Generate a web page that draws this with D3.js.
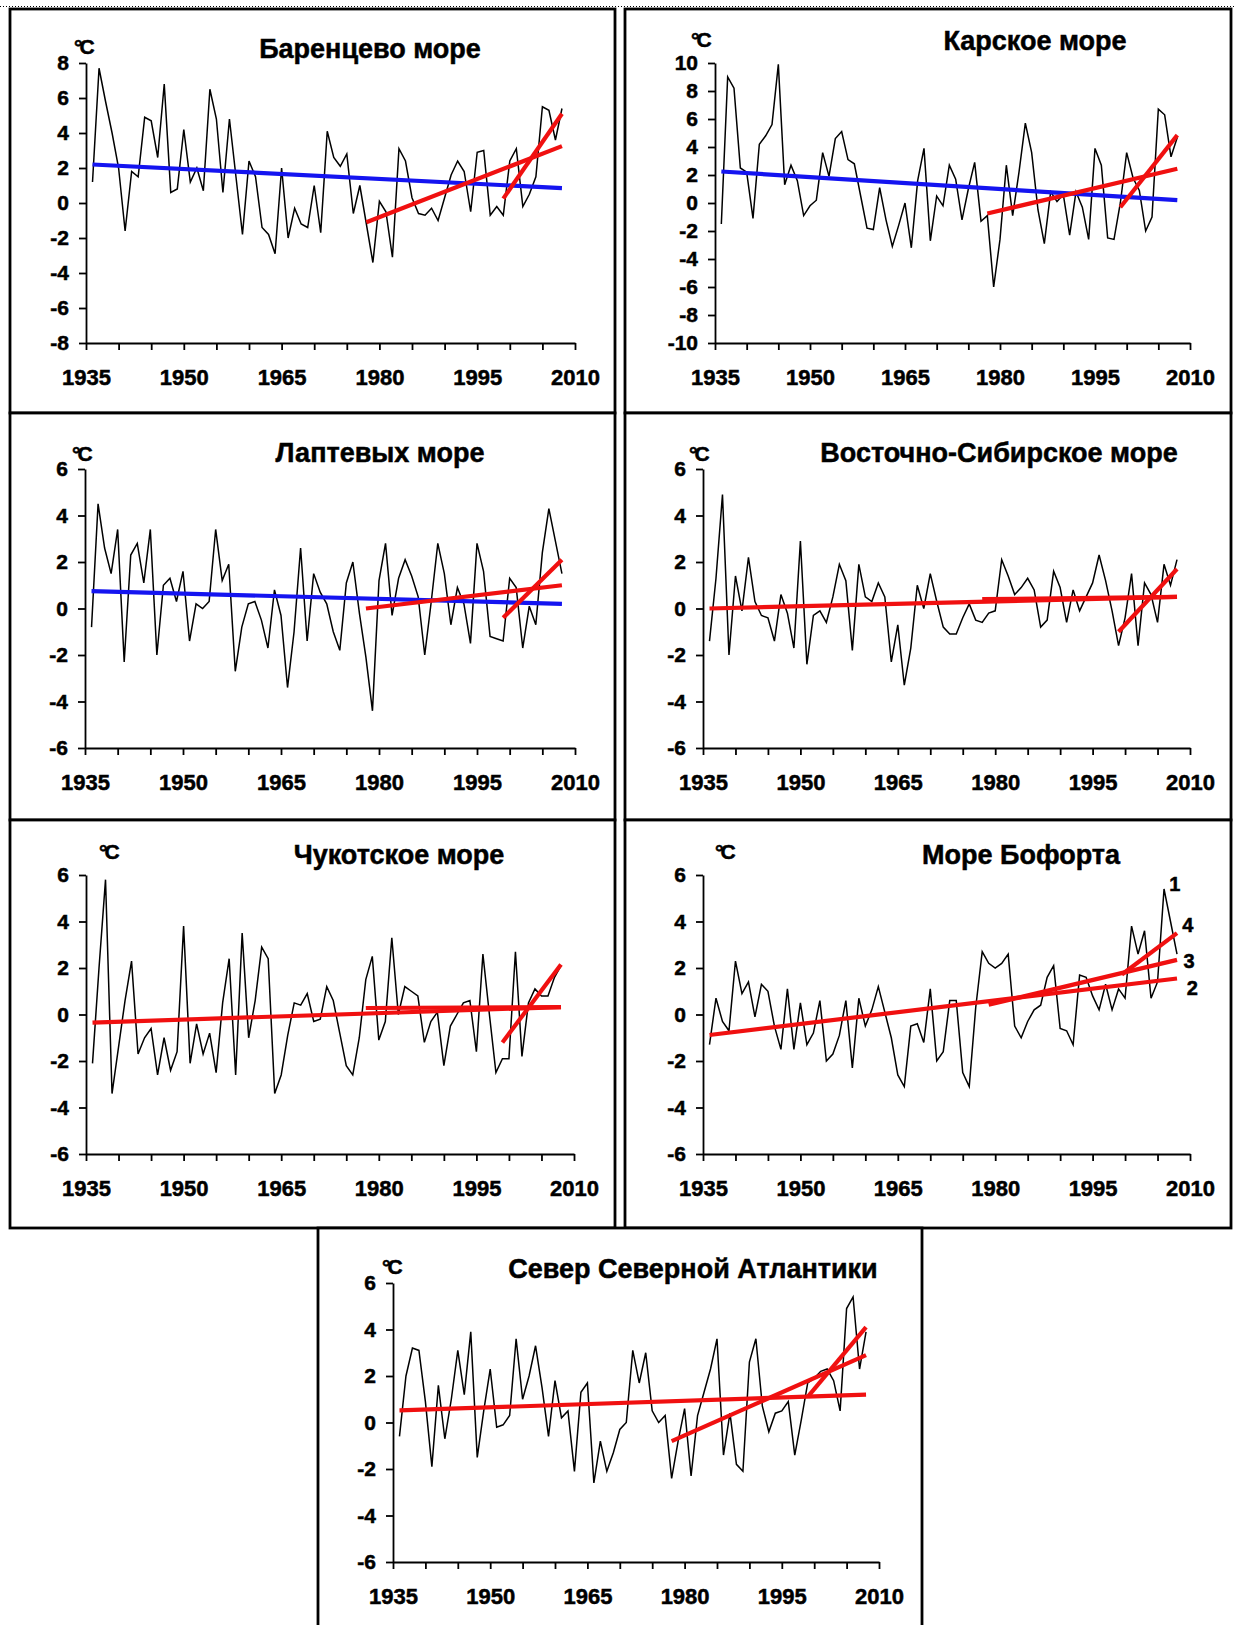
<!DOCTYPE html>
<html>
<head>
<meta charset="utf-8">
<script src="https://cdn.jsdelivr.net/npm/d3@7/dist/d3.min.js"></script>
<style>
body { margin: 0; background: #fff; }
svg text { font-family: "Liberation Sans", Arial, sans-serif; font-weight: bold; fill: #000; }
svg text.heavy { stroke: #000; stroke-width: 0.5px; }
</style>
</head>
<body>
<svg id="chart" width="1234" height="1625"></svg>
<script>
// years of the series
const years = d3.range(1936, 2009);

// x axis: ticks every 5 years, labels every 15
const xTicks = d3.range(1935, 2011, 5);
const xLabels = [1935, 1950, 1965, 1980, 1995, 2010];

const yTicks8 = [-8, -6, -4, -2, 0, 2, 4, 6, 8];
const yTicks10 = [-10, -8, -6, -4, -2, 0, 2, 4, 6, 8, 10];
const yTicks6 = [-6, -4, -2, 0, 2, 4, 6];

// temperature anomalies, 1936..2008
const barents = [
  1.2, 7.7, 5.8, 4.0, 2.0, -1.6, 1.8, 1.5, 4.9, 4.7,
  2.6, 6.8, 0.6, 0.8, 4.2, 1.2, 2.0, 0.7, 6.5, 4.8,
  0.6, 4.8, 1.5, -1.8, 2.4, 1.5, -1.4, -1.8, -2.9, 2.0,
  -2.0, -0.3, -1.2, -1.4, 1.0, -1.7, 4.1, 2.6, 2.1, 2.8,
  -0.6, 1.0, -1.2, -3.4, 0.1, -0.5, -3.1, 3.1, 2.4, 0.3,
  -0.6, -0.7, -0.3, -1.0, 0.3, 1.6, 2.4, 1.8, -0.5, 2.9,
  3.0, -0.7, -0.2, -0.7, 2.4, 3.1, -0.2, 0.5, 1.5, 5.5,
  5.3, 3.6, 5.4
];
const kara = [
  -1.5, 9.0, 8.2, 2.5, 2.2, -1.1, 4.2, 4.8, 5.6, 9.9,
  1.3, 2.7, 1.6, -0.9, -0.2, 0.2, 3.6, 1.9, 4.6, 5.1,
  3.1, 2.8, 0.5, -1.8, -1.9, 1.1, -1.2, -3.1, -1.6, 0.0,
  -3.2, 1.6, 3.9, -2.7, 0.5, -0.2, 2.7, 1.7, -1.2, 1.0,
  2.9, -1.3, -0.9, -6.0, -2.6, 2.7, -0.9, 2.2, 5.7, 3.6,
  -0.5, -2.9, 0.8, 0.1, 0.6, -2.3, 0.8, -0.3, -2.6, 3.9,
  2.7, -2.5, -2.6, 0.0, 3.6, 1.8, 0.9, -2.0, -1.0, 6.7,
  6.3, 3.3, 4.7
];
const laptev = [
  -0.8, 4.5, 2.6, 1.5, 3.4, -2.3, 2.3, 2.8, 1.1, 3.4,
  -2.0, 1.0, 1.3, 0.3, 1.6, -1.4, 0.2, 0.0, 0.3, 3.4,
  1.2, 1.9, -2.7, -0.8, 0.2, 0.3, -0.5, -1.7, 0.8, -0.3,
  -3.4, -1.0, 2.6, -1.4, 1.5, 0.7, 0.2, -1.0, -1.8, 1.1,
  2.0, -0.2, -2.1, -4.4, 1.2, 2.8, -0.3, 1.3, 2.1, 1.4,
  0.5, -2.0, 0.3, 2.8, 1.5, -0.7, 0.9, 0.2, -1.5, 2.8,
  1.6, -1.2, -1.3, -1.4, 1.3, 0.9, -1.7, 0.1, -0.7, 2.4,
  4.3, 2.9, 1.5
];
const eastSiberian = [
  -1.4, 1.3, 4.9, -2.0, 1.4, -0.1, 2.2, 0.3, -0.3, -0.4,
  -1.4, 0.6, -0.2, -1.7, 2.9, -2.4, -0.3, -0.1, -0.6, 0.5,
  1.9, 1.2, -1.8, 1.9, 0.5, 0.3, 1.1, 0.5, -2.3, -0.7,
  -3.3, -1.7, 1.0, 0.0, 1.5, 0.3, -0.8, -1.1, -1.1, -0.4,
  0.2, -0.5, -0.6, -0.2, -0.1, 2.1, 1.4, 0.6, 0.9, 1.3,
  0.8, -0.8, -0.5, 1.6, 0.9, -0.6, 0.8, -0.1, 0.5, 1.1,
  2.3, 1.2, -0.1, -1.6, -0.4, 1.5, -1.6, 1.1, 0.6, -0.6,
  1.9, 1.0, 2.1
];
const chukchi = [
  -2.1, 2.0, 5.8, -3.4, -1.4, 0.6, 2.3, -1.7, -1.0, -0.6,
  -2.6, -1.0, -2.4, -1.6, 3.8, -2.1, -0.4, -1.7, -0.8, -2.5,
  0.5, 2.4, -2.6, 3.5, -1.0, 0.6, 2.9, 2.4, -3.4, -2.6,
  -0.9, 0.5, 0.4, 0.9, -0.3, -0.2, 1.2, 0.6, -0.8, -2.2,
  -2.6, -1.0, 1.5, 2.5, -1.1, -0.3, 3.3, 0.0, 1.2, 1.0,
  0.8, -1.2, -0.3, 0.1, -2.2, -0.5, 0.0, 0.5, 0.6, -1.6,
  2.6, 0.0, -2.5, -1.9, -1.9, 2.7, -1.8, 0.5, 1.1, 0.8,
  0.8, 1.6, 2.1
];
const beaufort = [
  -1.3, 0.7, -0.3, -0.7, 2.3, 0.9, 1.4, -0.1, 1.3, 1.0,
  -0.5, -1.5, 1.1, -1.5, 0.5, -1.3, -0.8, 0.6, -2.0, -1.7,
  -0.9, 0.6, -2.3, 0.7, -0.5, 0.2, 1.2, 0.1, -1.0, -2.6,
  -3.1, -0.5, -0.4, -1.2, 1.1, -2.0, -1.6, 0.6, 0.6, -2.5,
  -3.1, 0.3, 2.7, 2.2, 2.0, 2.2, 2.6, -0.5, -1.0, -0.3,
  0.2, 0.4, 1.6, 2.1, -0.6, -0.7, -1.3, 1.7, 1.6, 0.8,
  0.2, 1.3, 0.2, 1.1, 0.7, 3.8, 2.6, 3.6, 0.7, 1.4,
  5.4, 4.0, 2.6
];
const northAtlantic = [
  -0.6, 2.0, 3.2, 3.1, 0.9, -1.9, 1.6, -0.7, 1.0, 3.1,
  1.2, 3.9, -1.5, 0.5, 2.3, -0.2, -0.1, 0.3, 3.6, 1.0,
  2.0, 3.3, 1.5, -0.6, 1.8, 0.2, 0.5, -2.1, 1.3, 1.7,
  -2.6, -0.8, -2.1, -1.3, -0.3, 0.0, 3.1, 1.7, 3.0, 0.5,
  0.0, 0.3, -2.4, -0.8, 0.6, -2.3, 0.3, 1.3, 2.3, 3.6,
  -1.4, 0.4, -1.8, -2.1, 2.6, 3.6, 0.7, -0.4, 0.4, 0.5,
  0.9, -1.4, 0.1, 1.7, 1.9, 2.2, 2.3, 1.8, 0.5, 4.9,
  5.4, 2.3, 3.9
];

// linear trends: [startYear, startValue, endYear, endValue]
const barentsTrends = [[1936, 2.2, 2008, 0.85], [1978, -1.1, 2008, 3.25], [1999, 0.25, 2008, 5.1]];
const karaTrends = [[1936, 2.25, 2008, 0.2], [1978, -0.75, 2008, 2.45], [1999, -0.3, 2008, 4.85]];
const laptevTrends = [[1936, 0.75, 2008, 0.2], [1978, 0.0, 2008, 1.0], [1999, -0.4, 2008, 2.1]];
const eastSiberianTrends = [[1936, 0.0, 2008, 0.5], [1978, 0.4, 2008, 0.5], [1999, -1.0, 2008, 1.7]];
const chukchiTrends = [[1936, -0.35, 2008, 0.32], [1978, 0.28, 2008, 0.32], [1999, -1.2, 2008, 2.15]];
const beaufortTrends = [[1936, -0.88, 2008, 1.55], [1979, 0.42, 2008, 2.35], [1999.5, 1.72, 2008, 3.5]];
const northAtlanticTrends = [[1936, 0.52, 2008, 1.2], [1978, -0.8, 2008, 2.9], [1999, 1.1, 2008, 4.1]];

// curve numbers on the Beaufort panel: [label, year, value]
const beaufortLabels = [["1", 2006.8, 5.3], ["4", 2008.8, 3.55], ["3", 2009.0, 2.0], ["2", 2009.5, 0.85]];

const panels = [
  {title: "Баренцево море", series: barents, yTicks: yTicks8, trends: barentsTrends, wholeColor: "#1414f0",
   ox: 10, oy: 9, w: 605, h: 404, left: 76, right: 565, top: 54, bottom: 334, tx: 360, ty: 49, cx: 64, cy: 45},
  {title: "Карское море", series: kara, yTicks: yTicks10, trends: karaTrends, wholeColor: "#1414f0",
   ox: 625, oy: 9, w: 606, h: 404, left: 90, right: 565, top: 54, bottom: 334, tx: 410, ty: 41, cx: 66, cy: 38},
  {title: "Лаптевых море", series: laptev, yTicks: yTicks6, trends: laptevTrends, wholeColor: "#1414f0",
   ox: 10, oy: 413, w: 605, h: 407, left: 75, right: 565, top: 56, bottom: 335, tx: 370, ty: 49, cx: 62, cy: 48},
  {title: "Восточно-Сибирское море", series: eastSiberian, yTicks: yTicks6, trends: eastSiberianTrends, wholeColor: "#f01010",
   ox: 625, oy: 413, w: 606, h: 407, left: 78, right: 565, top: 56, bottom: 335, tx: 374, ty: 49, cx: 64, cy: 48},
  {title: "Чукотское море", series: chukchi, yTicks: yTicks6, trends: chukchiTrends, wholeColor: "#f01010",
   ox: 10, oy: 820, w: 605, h: 408, left: 76, right: 564, top: 55, bottom: 334, tx: 389, ty: 44, cx: 89, cy: 39},
  {title: "Море Бофорта", series: beaufort, yTicks: yTicks6, trends: beaufortTrends, wholeColor: "#f01010",
   ox: 625, oy: 820, w: 606, h: 408, left: 78, right: 565, top: 55, bottom: 334, tx: 396, ty: 44, cx: 90, cy: 39,
   labels: beaufortLabels},
  {title: "Север Северной Атлантики", series: northAtlantic, yTicks: yTicks6, trends: northAtlanticTrends, wholeColor: "#f01010",
   ox: 318, oy: 1228, w: 604, h: 420, left: 75, right: 561, top: 55, bottom: 334, tx: 375, ty: 50, cx: 64, cy: 46}
];

const svg = d3.select("#chart");

// dotted line along the top edge
svg.append("line")
  .attr("x1", 0).attr("x2", 1234)
  .attr("y1", 6.5).attr("y2", 6.5)
  .attr("stroke", "#000")
  .attr("stroke-width", 1)
  .attr("stroke-dasharray", "1,2");

panels.forEach(p => {
  const g = svg.append("g").attr("transform", `translate(${p.ox},${p.oy})`);

  g.append("rect")
    .attr("x", 0).attr("y", 0)
    .attr("width", p.w).attr("height", p.h)
    .attr("fill", "#fff")
    .attr("stroke", "#000")
    .attr("stroke-width", 2.8);

  const x = d3.scaleLinear().domain([1935, 2010]).range([p.left, p.right]);
  const y = d3.scaleLinear().domain(d3.extent(p.yTicks)).range([p.bottom, p.top]);

  const xAxis = g.append("g")
    .attr("transform", `translate(0,${p.bottom})`)
    .call(d3.axisBottom(x)
      .tickValues(xTicks)
      .tickFormat(d => xLabels.includes(d) ? String(d) : "")
      .tickSize(7)
      .tickSizeOuter(0)
      .tickPadding(19));
  xAxis.selectAll("text").attr("class", "heavy").style("font-size", "22px");

  const yAxis = g.append("g")
    .attr("transform", `translate(${p.left},0)`)
    .call(d3.axisLeft(y)
      .tickValues(p.yTicks)
      .tickFormat(d => String(d))
      .tickSize(7)
      .tickSizeOuter(0)
      .tickPadding(10));
  yAxis.selectAll("text").attr("class", "heavy").style("font-size", "21px");

  g.selectAll(".domain, .tick line")
    .attr("stroke", "#000")
    .attr("stroke-width", 1.8);

  // observed series
  const line = d3.line()
    .x((d, i) => x(years[i]))
    .y(d => y(d));
  g.append("path")
    .datum(p.series)
    .attr("d", line)
    .attr("fill", "none")
    .attr("stroke", "#000")
    .attr("stroke-width", 1.5)
    .attr("stroke-linejoin", "miter");

  // trends: first one spans the whole record
  p.trends.forEach((t, i) => {
    g.append("line")
      .attr("x1", x(t[0])).attr("y1", y(t[1]))
      .attr("x2", x(t[2])).attr("y2", y(t[3]))
      .attr("stroke", i === 0 ? p.wholeColor : "#f01010")
      .attr("stroke-width", 4.2);
  });

  if (p.labels) {
    g.selectAll("text.curve")
      .data(p.labels)
      .join("text")
        .attr("class", "curve heavy")
        .attr("x", d => x(d[1]))
        .attr("y", d => y(d[2]))
        .style("font-size", "20px")
        .text(d => d[0]);
  }

  g.append("text")
    .attr("class", "heavy")
    .attr("x", p.tx).attr("y", p.ty)
    .attr("text-anchor", "middle")
    .style("font-size", "27px")
    .text(p.title);

  g.append("text")
    .attr("class", "heavy")
    .attr("x", p.cx).attr("y", p.cy)
    .style("font-size", "21px")
    .style("letter-spacing", "-3px")
    .text("°C");
});
</script>
</body>
</html>
